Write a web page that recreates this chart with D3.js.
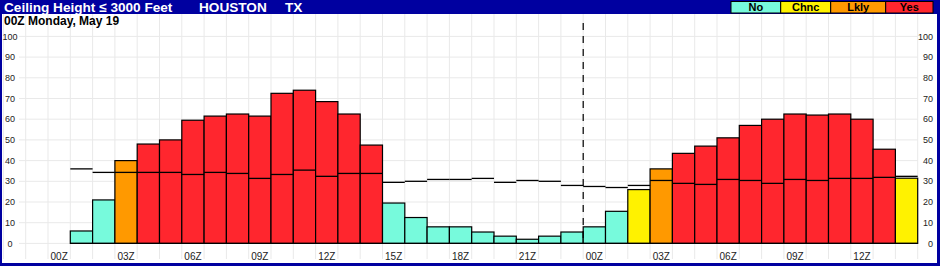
<!DOCTYPE html>
<html>
<head>
<meta charset="utf-8">
<script src="https://cdn.jsdelivr.net/npm/d3@7"></script>
<style>
  body { margin: 0; background: #fff; }
  svg { display: block; font-family: Arial, "Liberation Sans", sans-serif; }
</style>
</head>
<body>
<div id="chart"></div>
<script>
// hours after 00Z Monday May 19
const hours = [1, 2, 3, 4, 5, 6, 7, 8, 9, 10, 11, 12, 13, 14, 15, 16, 17, 18, 19,
               20, 21, 22, 23, 24, 25, 26, 27, 28, 29, 30, 31, 32, 33, 34, 35, 36, 37, 38];
const probValues = [6, 21, 40, 48, 50, 59.5, 61.5, 62.5, 61.5, 72.5, 74, 68.5, 62.5, 47.5, 19.5, 12.5, 8, 8, 5.5,
                    3.5, 2, 3.5, 5.5, 8, 15.5, 26, 36, 43.5, 47, 51, 57, 60, 62.5, 62, 62.5, 60, 45.5, 31.5];
const climoValues = [36, 34.3, 34.3, 34.3, 34.3, 33.3, 34.3, 33.8, 31.4, 33.3, 35.4, 32.4, 33.8, 33.8, 29.5, 30, 30.9, 30.9, 31.4,
                     29.5, 30.4, 30, 28, 27.5, 27, 28, 30.4, 29, 28.5, 30.9, 30.4, 29, 30.9, 30.4, 31.4, 31.4, 31.9, 32.4];
const categories = ["No", "No", "Lkly", "Yes", "Yes", "Yes", "Yes", "Yes", "Yes", "Yes", "Yes", "Yes", "Yes", "Yes", "No", "No", "No", "No", "No",
                    "No", "No", "No", "No", "No", "No", "Chnc", "Lkly", "Yes", "Yes", "Yes", "Yes", "Yes", "Yes", "Yes", "Yes", "Yes", "Yes", "Chnc"];

const legendLabels = ["No", "Chnc", "Lkly", "Yes"];
const tickHours = [0, 3, 6, 9, 12, 15, 18, 21, 24, 27, 30, 33, 36];
const tickLabels = ["00Z", "03Z", "06Z", "09Z", "12Z", "15Z", "18Z", "21Z", "00Z", "03Z", "06Z", "09Z", "12Z"];
const yTicks = [0, 10, 20, 30, 40, 50, 60, 70, 80, 90, 100];
const dayBreak = 23.5;

const title = "Ceiling Height \u2264 3000 Feet";
const station = "HOUSTON";
const state = "TX";
const subtitle = "00Z Monday, May 19";

const W = 940, H = 266;
const blue = "#0000a0";

const colors = d3.scaleOrdinal()
    .domain(legendLabels)
    .range(["#77fadc", "#fff200", "#ff9900", "#ff262e"]);

const x = d3.scaleLinear().domain([-2.5, 38.5]).range([3.4, 917.7]);
const y = d3.scaleLinear().domain([0, 100]).range([243.4, 36.4]);

const svg = d3.select("#chart").append("svg")
    .attr("width", W)
    .attr("height", H);

// frame
svg.append("rect").attr("width", W).attr("height", H).attr("fill", blue);
svg.append("rect")
    .attr("x", 2).attr("y", 14)
    .attr("width", 935).attr("height", 249)
    .attr("fill", "#fff");

// grid
const gridColor = "#e9e9e9";
svg.append("g")
    .selectAll("line")
    .data(d3.range(-2.5, 39, 1))
    .join("line")
    .attr("x1", d => x(d)).attr("x2", d => x(d))
    .attr("y1", 14).attr("y2", 259)
    .attr("stroke", gridColor);

svg.append("g")
    .selectAll("line")
    .data(yTicks)
    .join("line")
    .attr("x1", 19).attr("x2", x(38.5))
    .attr("y1", d => y(d)).attr("y2", d => y(d))
    .attr("stroke", gridColor);

// y labels both sides
const yl = svg.append("g")
    .style("font-size", "9px")
    .attr("fill", "#222");
yl.selectAll("text.l")
    .data(yTicks)
    .join("text")
    .attr("class", "l")
    .attr("x", 10)
    .attr("y", d => y(d))
    .attr("dy", "0.35em")
    .attr("text-anchor", "middle")
    .text(d => d);
yl.selectAll("text.r")
    .data(yTicks)
    .join("text")
    .attr("class", "r")
    .attr("x", 933)
    .attr("y", d => y(d))
    .attr("dy", "0.35em")
    .attr("text-anchor", "end")
    .text(d => d);

// x labels
svg.append("g")
    .style("font-size", "10px")
    .attr("fill", "#222")
    .selectAll("text")
    .data(tickHours)
    .join("text")
    .attr("x", d => x(d))
    .attr("y", 256)
    .attr("dy", "0.35em")
    .attr("text-anchor", "middle")
    .text((d, i) => tickLabels[i]);

// bars
const data = hours.map((h, i) => ({h, v: probValues[i], c: climoValues[i], cat: categories[i]}));

svg.append("g")
    .selectAll("rect")
    .data(data)
    .join("rect")
    .attr("x", d => x(d.h - 0.5))
    .attr("width", d => x(d.h + 0.5) - x(d.h - 0.5))
    .attr("y", d => y(d.v))
    .attr("height", d => y(0) - y(d.v))
    .attr("fill", d => colors(d.cat))
    .attr("stroke", "#000")
    .attr("stroke-width", 1.2);

// climatology steps
svg.append("g")
    .selectAll("line")
    .data(data)
    .join("line")
    .attr("x1", d => x(d.h - 0.5))
    .attr("x2", d => x(d.h + 0.5))
    .attr("y1", d => y(d.c))
    .attr("y2", d => y(d.c))
    .attr("stroke", "#000")
    .attr("stroke-width", 1.3);

// baseline
svg.append("line")
    .attr("x1", x(0.5)).attr("x2", x(38.5))
    .attr("y1", y(0)).attr("y2", y(0))
    .attr("stroke", "#000")
    .attr("stroke-width", 1.2);

// day break
svg.append("line")
    .attr("x1", x(dayBreak)).attr("x2", x(dayBreak))
    .attr("y1", 23).attr("y2", y(0))
    .attr("stroke", "#000")
    .attr("stroke-width", 1.2)
    .attr("stroke-dasharray", "7,6");

// header text
const head = svg.append("g")
    .attr("fill", "#fff")
    .style("font-size", "13.6px")
    .style("font-weight", "bold");
head.append("text").attr("x", 4).attr("y", 12).text(title);
head.append("text").attr("x", 199).attr("y", 12).text(station);
head.append("text").attr("x", 285).attr("y", 12).text(state);

svg.append("text")
    .attr("x", 4).attr("y", 25)
    .style("font-size", "12px")
    .style("font-weight", "bold")
    .text(subtitle);

// legend
const legendX = [731, 780.7, 830.7, 885.7, 933];
const lg = svg.append("g");
legendLabels.forEach((l, i) => {
    lg.append("rect")
        .attr("x", legendX[i]).attr("y", 1.5)
        .attr("width", legendX[i + 1] - legendX[i]).attr("height", 11.5)
        .attr("fill", colors(l))
        .attr("stroke", "#000");
    lg.append("text")
        .attr("x", (legendX[i] + legendX[i + 1]) / 2)
        .attr("y", 7.5)
        .attr("dy", "0.35em")
        .attr("text-anchor", "middle")
        .style("font-size", "11px")
        .style("font-weight", "bold")
        .text(l);
});
</script>
</body>
</html>
